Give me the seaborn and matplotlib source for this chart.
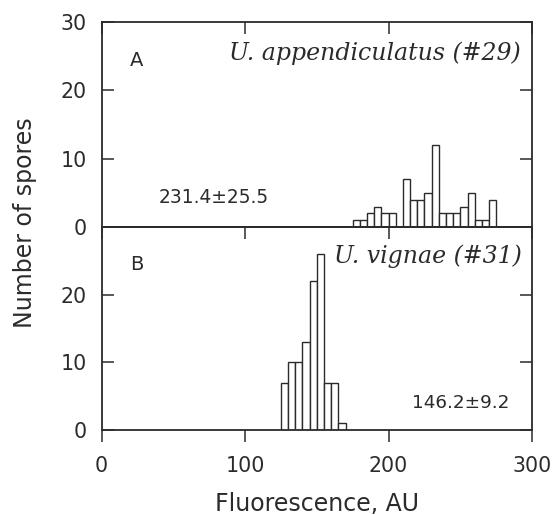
import numpy as np
import pandas as pd
import matplotlib
matplotlib.use("Agg")
import matplotlib.pyplot as plt
import seaborn as sns

# histogram data (bin left edge, number of spores), bin width 5 AU
bins_a = [175, 180, 185, 190, 195, 200, 205, 210, 215, 220,
          225, 230, 235, 240, 245, 250, 255, 260, 265, 270]
counts_a = [1, 1, 2, 3, 2, 2, 0, 7, 4, 4, 5, 12, 2, 2, 2, 3, 5, 1, 1, 4]
bins_b = [125, 130, 135, 140, 145, 150, 155, 160, 165]
counts_b = [7, 10, 10, 13, 22, 26, 7, 7, 1]
bin_width = 5

title_a = "U. appendiculatus (#29)"
title_b = "U. vignae (#31)"
stat_a = "231.4±25.5"
stat_b = "146.2±9.2"

sns.set_style("ticks")
plt.rcParams["font.family"] = ["DejaVu Sans"]
ink = "#2b2b2b"
plt.rcParams["text.color"] = ink
plt.rcParams["axes.edgecolor"] = ink
plt.rcParams["xtick.color"] = ink
plt.rcParams["ytick.color"] = ink

fig = plt.figure(figsize=(5.52, 5.15), dpi=100)
ax_a = fig.add_axes([0.184, 0.559, 0.780, 0.398])
ax_b = fig.add_axes([0.184, 0.165, 0.780, 0.394], sharex=ax_a)


def draw_hist(ax, starts, counts):
    df = pd.DataFrame({"mid": np.array(starts, dtype=float) + bin_width / 2,
                       "n": np.array(counts, dtype=float)})
    sns.histplot(data=df, x="mid", weights="n", binwidth=bin_width,
                 binrange=(starts[0], starts[-1] + bin_width),
                 ax=ax, color="white", edgecolor=ink, linewidth=1.0, alpha=1)


draw_hist(ax_a, bins_a, counts_a)
draw_hist(ax_b, bins_b, counts_b)

for ax in (ax_a, ax_b):
    ax.set_xlim(0, 300)
    ax.set_ylim(0, 30)
    ax.set_xlabel("")
    ax.set_ylabel("")
    for s in ax.spines.values():
        s.set_visible(True)
        s.set_linewidth(1.3)
    ax.tick_params(axis="y", direction="in", left=True, right=True,
                   length=8.5, width=1.1, labelsize=14.8, pad=10.5)

ax_a.set_yticks([0, 10, 20, 30])
ax_b.set_yticks([0, 10, 20])
ax_a.set_xticks([0, 100, 200, 300])

ax_a.tick_params(axis="x", direction="in", top=True, bottom=False,
                 labelbottom=False, length=8.5, width=1.1)
ax_b.tick_params(axis="x", direction="out", top=False, bottom=True,
                 length=8.5, width=1.1, labelsize=14.8, pad=10.5)
top_b = ax_b.secondary_xaxis("top")
top_b.set_xticks([0, 100, 200, 300])
top_b.tick_params(axis="x", direction="in", length=8.5, width=1.1, labeltop=False)
top_b.spines["top"].set_linewidth(1.3)

# panel annotations
ax_a.text(24.3, 24.4, "A", fontsize=14, va="center", ha="center")
ax_a.text(292, 25.4, title_a, fontsize=17, style="italic", family="DejaVu Serif",
          ha="right", va="center")
ax_a.text(40, 4.4, stat_a, fontsize=13.4, ha="left", va="center")

ax_b.text(24.3, 24.4, "B", fontsize=14, va="center", ha="center")
ax_b.text(293, 25.7, title_b, fontsize=17, style="italic", family="DejaVu Serif",
          ha="right", va="center")
ax_b.text(216, 4.0, stat_b, fontsize=13.2, ha="left", va="center")

fig.text(0.575, 0.008, "Fluorescence, AU", fontsize=17, ha="center", va="baseline")
fig.text(0.045, 0.567, "Number of spores", fontsize=17, rotation=90,
         ha="center", va="center")

fig.savefig("out.png", dpi=100)
